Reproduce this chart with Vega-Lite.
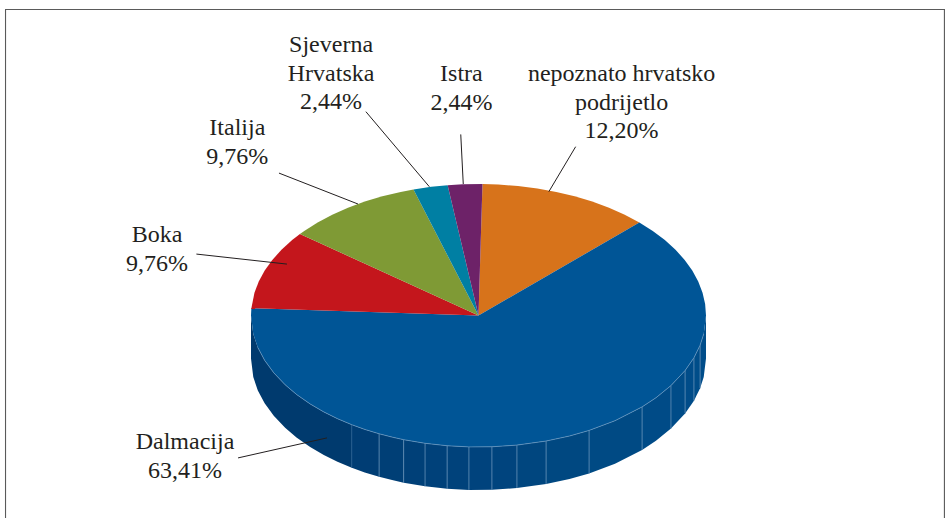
{
"$schema":"https://vega.github.io/schema/vega-lite/v6.json",
"width":945,"height":518,"padding":0,"autosize":{"type":"none"},
"background":"white",
"config":{"view":{"stroke":null}},
"projection":{"type":"identity","reflectY":true,"scale":2.275,"translate":[478.5,315.5]},
"resolve":{"scale":{"color":"independent","stroke":"independent"}},
"layer":[
{"data":{"values":[
{"type":"Feature","properties":{"kind":"frame"},"geometry":{"type":"LineString","coordinates":[[-207.9,-92],[-207.9,134.5],[204.8,134.5],[204.8,-92]]}}
]},"mark":{"type":"geoshape","filled":false,"stroke":"#5a5a5a","strokeWidth":1.1},"encoding":{}},
{"data":{"values":[
{"type":"Feature","properties":{"slat":-78},"geometry":{"type":"Polygon","coordinates":[[[-100,0],[-99,-8.15],[-97,-14.05],[-94,-19.72],[-90,-25.19],[-85,-30.45],[-80,-34.68],[-74,-38.88],[-68,-42.38],[-62,-45.35],[-55.7,-48],[-55.7,-66.9],[-62,-64.25],[-68,-61.28],[-74,-57.78],[-80,-53.58],[-85,-49.35],[-90,-44.09],[-94,-38.62],[-97,-32.95],[-99,-27.05],[-100,-18.9],[-100,0]]]}},
{"type":"Feature","properties":{"slat":-50},"geometry":{"type":"Polygon","coordinates":[[[-55.7,-48],[-50,-50.06],[-43.7,-51.99],[-43.7,-70.89],[-50,-68.96],[-55.7,-66.9],[-55.7,-48]]]}},
{"type":"Feature","properties":{"slat":-38},"geometry":{"type":"Polygon","coordinates":[[[-43.7,-51.99],[-38,-53.46],[-32.9,-54.58],[-32.9,-73.48],[-38,-72.36],[-43.7,-70.89],[-43.7,-51.99]]]}},
{"type":"Feature","properties":{"slat":-28},"geometry":{"type":"Polygon","coordinates":[[[-32.9,-54.58],[-23.5,-56.18],[-23.5,-75.08],[-32.9,-73.48],[-32.9,-54.58]]]}},
{"type":"Feature","properties":{"slat":-19},"geometry":{"type":"Polygon","coordinates":[[[-23.5,-56.18],[-13.8,-57.25],[-13.8,-76.15],[-23.5,-75.08],[-23.5,-56.18]]]}},
{"type":"Feature","properties":{"slat":-9},"geometry":{"type":"Polygon","coordinates":[[[-13.8,-57.25],[-4.2,-57.75],[-4.2,-76.65],[-13.8,-76.15],[-13.8,-57.25]]]}},
{"type":"Feature","properties":{"slat":1},"geometry":{"type":"Polygon","coordinates":[[[-4.2,-57.75],[5.9,-57.7],[5.9,-76.6],[-4.2,-76.65],[-4.2,-57.75]]]}},
{"type":"Feature","properties":{"slat":11},"geometry":{"type":"Polygon","coordinates":[[[5.9,-57.7],[16.9,-56.97],[16.9,-75.87],[5.9,-76.6],[5.9,-57.7]]]}},
{"type":"Feature","properties":{"slat":23},"geometry":{"type":"Polygon","coordinates":[[[16.9,-56.97],[29.7,-55.19],[29.7,-74.09],[16.9,-75.87],[16.9,-56.97]]]}},
{"type":"Feature","properties":{"slat":39},"geometry":{"type":"Polygon","coordinates":[[[29.7,-55.19],[40,-52.97],[48.6,-50.51],[48.6,-69.41],[40,-71.87],[29.7,-74.09],[29.7,-55.19]]]}},
{"type":"Feature","properties":{"slat":60},"geometry":{"type":"Polygon","coordinates":[[[48.6,-50.51],[60,-46.24],[71.9,-40.17],[71.9,-59.07],[60,-65.14],[48.6,-69.41],[48.6,-50.51]]]}},
{"type":"Feature","properties":{"slat":78},"geometry":{"type":"Polygon","coordinates":[[[71.9,-40.17],[78,-36.17],[84.6,-30.82],[84.6,-49.72],[78,-55.07],[71.9,-59.07],[71.9,-40.17]]]}},
{"type":"Feature","properties":{"slat":88},"geometry":{"type":"Polygon","coordinates":[[[84.6,-30.82],[90.8,-24.21],[90.8,-43.11],[84.6,-49.72],[84.6,-30.82]]]}},
{"type":"Feature","properties":{"slat":93},"geometry":{"type":"Polygon","coordinates":[[[90.8,-24.21],[94.7,-18.57],[94.7,-37.47],[90.8,-43.11],[90.8,-24.21]]]}},
{"type":"Feature","properties":{"slat":96},"geometry":{"type":"Polygon","coordinates":[[[94.7,-18.57],[97.4,-13.09],[97.4,-31.99],[94.7,-37.47],[94.7,-18.57]]]}},
{"type":"Feature","properties":{"slat":99},"geometry":{"type":"Polygon","coordinates":[[[97.4,-13.09],[99,-8.15],[100,0],[100,-18.9],[99,-27.05],[97.4,-31.99],[97.4,-13.09]]]}}
]},"mark":{"type":"geoshape","strokeWidth":0},
"encoding":{"color":{"field":"properties.slat","type":"quantitative","legend":null,
"scale":{"domain":[-78,-20,60,100],"range":["#003a6e","#00417a","#004a84","#004d8a"]}}}},
{"data":{"values":[
{"type":"Feature","properties":{"kind":"faint"},"geometry":{"type":"LineString","coordinates":[[-55.7,-48],[-55.7,-66.9]]}},
{"type":"Feature","properties":{"kind":"slat"},"geometry":{"type":"MultiLineString","coordinates":[[[-43.7,-51.99],[-43.7,-70.89]],[[-32.9,-54.58],[-32.9,-73.48]],[[-23.5,-56.18],[-23.5,-75.08]],[[-13.8,-57.25],[-13.8,-76.15]],[[-4.2,-57.75],[-4.2,-76.65]],[[5.9,-57.7],[5.9,-76.6]],[[16.9,-56.97],[16.9,-75.87]],[[29.7,-55.19],[29.7,-74.09]],[[48.6,-50.51],[48.6,-69.41]],[[71.9,-40.17],[71.9,-59.07]],[[84.6,-30.82],[84.6,-49.72]],[[90.8,-24.21],[90.8,-43.11]],[[94.7,-18.57],[94.7,-37.47]],[[97.4,-13.09],[97.4,-31.99]]]}}
]},"mark":{"type":"geoshape","filled":false,"strokeWidth":0.8},
"encoding":{"stroke":{"field":"properties.kind","type":"nominal","legend":null,"scale":{"domain":["faint","slat"],"range":["#1f5a8e","#5f8db5"]}}}},
{"data":{"values":[
{"type":"Feature","properties":{"name":"nepoznato hrvatsko podrijetlo","share":12.2},"geometry":{"type":"Polygon","coordinates":[[[0,0],[1.75,57.79],[8.72,57.58],[17.36,56.92],[25.88,55.83],[34.2,54.31],[42.26,52.38],[50,50.06],[57.36,47.35],[64.28,44.28],[70.71,40.87],[0,0]]]}},
{"type":"Feature","properties":{"name":"Dalmacija","share":63.41},"geometry":{"type":"Polygon","coordinates":[[[0,0],[70.71,40.87],[76.6,37.15],[81.92,33.15],[86.6,28.9],[90.63,24.43],[93.97,19.77],[96.59,14.96],[98.48,10.04],[99.62,5.04],[100,0],[99,-8.15],[97.4,-13.09],[94.7,-18.57],[90.8,-24.21],[84.6,-30.82],[78,-36.17],[71.9,-40.17],[60,-46.24],[48.6,-50.51],[40,-52.97],[29.7,-55.19],[16.9,-56.97],[5.9,-57.7],[-4.2,-57.75],[-13.8,-57.25],[-23.5,-56.18],[-32.9,-54.58],[-38,-53.46],[-43.7,-51.99],[-50,-50.06],[-55.7,-48],[-62,-45.35],[-68,-42.38],[-74,-38.88],[-80,-34.68],[-85,-30.45],[-90,-25.19],[-94,-19.72],[-97,-14.05],[-99,-8.15],[-100,0],[-99.84,3.23],[0,0]]]}},
{"type":"Feature","properties":{"name":"Boka","share":9.76},"geometry":{"type":"Polygon","coordinates":[[[0,0],[-99.84,3.23],[-98.48,10.04],[-96.59,14.96],[-93.97,19.77],[-90.63,24.43],[-86.6,28.9],[-81.92,33.15],[-78.48,35.82],[0,0]]]}},
{"type":"Feature","properties":{"name":"Italija","share":9.76},"geometry":{"type":"Polygon","coordinates":[[[0,0],[-78.48,35.82],[-76.6,37.15],[-70.71,40.87],[-64.28,44.28],[-57.36,47.35],[-50,50.06],[-42.26,52.38],[-34.2,54.31],[-28.57,55.39],[0,0]]]}},
{"type":"Feature","properties":{"name":"Sjeverna Hrvatska","share":2.44},"geometry":{"type":"Polygon","coordinates":[[[0,0],[-28.57,55.39],[-20.79,56.54],[-13.57,57.26],[0,0]]]}},
{"type":"Feature","properties":{"name":"Istra","share":2.44},"geometry":{"type":"Polygon","coordinates":[[[0,0],[-13.57,57.26],[-6.98,57.66],[1.75,57.79],[0,0]]]}}
]},"mark":{"type":"geoshape","strokeWidth":0},
"encoding":{"color":{"field":"properties.name","type":"nominal","legend":null,
"scale":{"domain":["nepoznato hrvatsko podrijetlo","Dalmacija","Boka","Italija","Sjeverna Hrvatska","Istra"],"range":["#d7731b","#005596","#c4161c","#7f9a35","#007fa3","#6d2268"]}}}},
{"data":{"values":[
{"type":"Feature","properties":{"part":"rim"},"geometry":{"type":"LineString","coordinates":[[99,-8.15],[97.4,-13.09],[94.7,-18.57],[90.8,-24.21],[84.6,-30.82],[78,-36.17],[71.9,-40.17],[60,-46.24],[48.6,-50.51],[40,-52.97],[29.7,-55.19],[16.9,-56.97],[5.9,-57.7],[-4.2,-57.75],[-13.8,-57.25],[-23.5,-56.18],[-32.9,-54.58],[-38,-53.46],[-43.7,-51.99],[-50,-50.06],[-55.7,-48],[-62,-45.35],[-68,-42.38],[-74,-38.88],[-80,-34.68],[-85,-30.45],[-90,-25.19],[-94,-19.72],[-97,-14.05]]}}
]},"mark":{"type":"geoshape","filled":false,"stroke":"#6c9ac2","strokeWidth":0.7},"encoding":{}},
{"data":{"values":[
{"type":"Feature","properties":{"name":"Dalmacija"},"geometry":{"type":"LineString","coordinates":[[-105.7,-62.6],[-66.6,-53.8]]}},
{"type":"Feature","properties":{"name":"Boka"},"geometry":{"type":"LineString","coordinates":[[-124,27],[-84.2,22.6]]}},
{"type":"Feature","properties":{"name":"Italija"},"geometry":{"type":"LineString","coordinates":[[-87.7,62.6],[-52.97,49]]}},
{"type":"Feature","properties":{"name":"Sjeverna Hrvatska"},"geometry":{"type":"LineString","coordinates":[[-49.5,89.6],[-21.6,56.6]]}},
{"type":"Feature","properties":{"name":"Istra"},"geometry":{"type":"LineString","coordinates":[[-7.8,79.6],[-6.7,57.8]]}},
{"type":"Feature","properties":{"name":"nepoznato hrvatsko podrijetlo"},"geometry":{"type":"LineString","coordinates":[[42.7,74.2],[30.9,54.4]]}}
]},"mark":{"type":"geoshape","filled":false,"stroke":"#231f20","strokeWidth":1},"encoding":{}},
{"data":{"values":[
{"label":"Sjeverna\nHrvatska\n2,44%","lon":-64.8,"lat":115.8},
{"label":"Italija\n9,76%","lon":-106,"lat":79.3},
{"label":"Istra\n2,44%","lon":-7.5,"lat":103.1},
{"label":"nepoznato hrvatsko\npodrijetlo\n12,20%","lon":62.9,"lat":103.1},
{"label":"Boka\n9,76%","lon":-141.3,"lat":32.3},
{"label":"Dalmacija\n63,41%","lon":-129,"lat":-58.7}
]},"mark":{"type":"text","font":"Liberation Serif","fontSize":24,"lineHeight":28.7,"lineBreak":"\n","align":"center","baseline":"alphabetic","color":"#231f20"},
"encoding":{"longitude":{"field":"lon","type":"quantitative"},"latitude":{"field":"lat","type":"quantitative"},"text":{"field":"label","type":"nominal"}}}
]
}
